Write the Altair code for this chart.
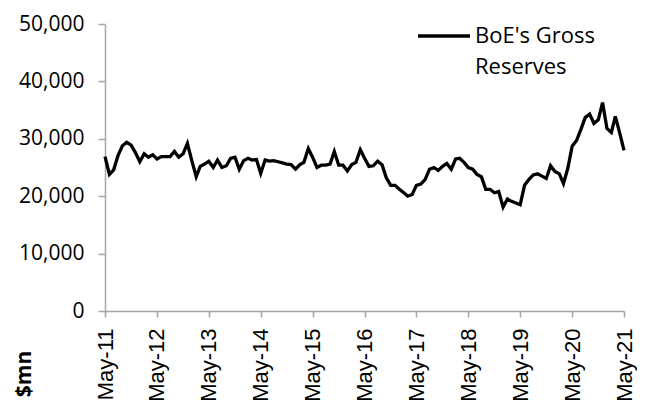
import altair as alt
import pandas as pd

# Monthly BoE gross reserves, $mn, May-2011 .. May-2021
values = [
    26900, 23800, 24600, 27100, 28800, 29400, 28900, 27600, 26000, 27400, 26800, 27200,
    26500, 26900, 26900, 26900, 27800, 26800, 27400, 29200, 26200, 23400, 25200, 25600,
    26100, 25000, 26300, 25000, 25300, 26600, 26800, 24700, 26200, 26600, 26300, 26400,
    24000, 26300, 26100, 26200, 26000, 25800, 25600, 25500, 24700, 25500, 25900, 28300,
    26800, 25000, 25400, 25400, 25600, 27800, 25400, 25400, 24400, 25500, 25900, 28100,
    26600, 25200, 25300, 26100, 25500, 23200, 21900, 21900, 21200, 20600, 20000, 20300,
    21900, 22100, 22900, 24700, 25000, 24500, 25200, 25700, 24700, 26500, 26600, 25900,
    25000, 24700, 23800, 23400, 21200, 21200, 20600, 20800, 18100, 19500, 19100, 18800,
    18500, 21900, 22900, 23700, 23900, 23500, 23100, 25300, 24300, 23900, 22200, 24900,
    28700, 29700, 31600, 33700, 34300, 32700, 33300, 36300, 31800, 31100, 33900, 31000,
    28000,
]
dates = pd.date_range("2011-05-01", periods=len(values), freq="MS").strftime("%Y-%m-%d").tolist()
tick_years = list(range(2011, 2022))
y_ticks = [0, 10000, 20000, 30000, 40000, 50000]
series_name = ["BoE's Gross", "Reserves"]
unit_label = "$mn"

df = pd.DataFrame({"date": dates, "value": values})

axis_color = "#a6a6a6"

line = alt.Chart(df).mark_line(color="black", strokeWidth=3.3).encode(
    x=alt.X(
        "date:T",
        scale=alt.Scale(
            type="utc",
            domain=[alt.DateTime(year=2011, month=5, date=1, utc=True),
                    alt.DateTime(year=2021, month=5, date=1, utc=True)],
        ),
        axis=alt.Axis(
            values=[alt.DateTime(year=y, month=5, date=1, utc=True) for y in tick_years],
            format="%b-%y",
            labelAngle=-90,
            labelAlign="right",
            labelBaseline="middle",
            labelFont="Liberation Sans",
            labelFontSize=22,
            labelColor="black",
            labelPadding=11,
            tickSize=6,
            tickColor=axis_color,
            tickWidth=1.5,
            domainColor=axis_color,
            domainWidth=1.5,
            grid=False,
            title=None,
        ),
    ),
    y=alt.Y(
        "value:Q",
        scale=alt.Scale(domain=[0, 50000], nice=False),
        axis=alt.Axis(
            values=y_ticks,
            format=",.0f",
            labelFont="Open Sans",
            labelFontSize=21,
            labelColor="black",
            labelPadding=14,
            tickSize=7,
            tickColor=axis_color,
            tickWidth=1.5,
            domainColor=axis_color,
            domainWidth=1.5,
            grid=False,
            title=None,
        ),
    ),
)

one = pd.DataFrame({"k": [0]})

legend_rule = alt.Chart(one).mark_rule(color="black", strokeWidth=3.3).encode(
    x=alt.value(313), x2=alt.value(365), y=alt.value(12)
)
legend_text = alt.Chart(one).mark_text(
    align="left", baseline="middle", font="Open Sans", fontSize=22,
    lineHeight=31, color="black", text=series_name,
).encode(x=alt.value(370), y=alt.value(12))

unit_text = alt.Chart(one).mark_text(
    angle=270, align="center", baseline="middle", font="Open Sans",
    fontSize=21, fontWeight="bold", color="black", text=unit_label,
).encode(x=alt.value(-80), y=alt.value(350))

chart = alt.layer(line, legend_rule, legend_text, unit_text).properties(
    width=519,
    height=287,
    autosize=alt.AutoSizeParams(type="none"),
    padding={"left": 97, "top": 16, "right": 13, "bottom": 94},
).configure_view(stroke=None)

chart.save("out.html", embed_options={"renderer": "svg", "actions": False})
